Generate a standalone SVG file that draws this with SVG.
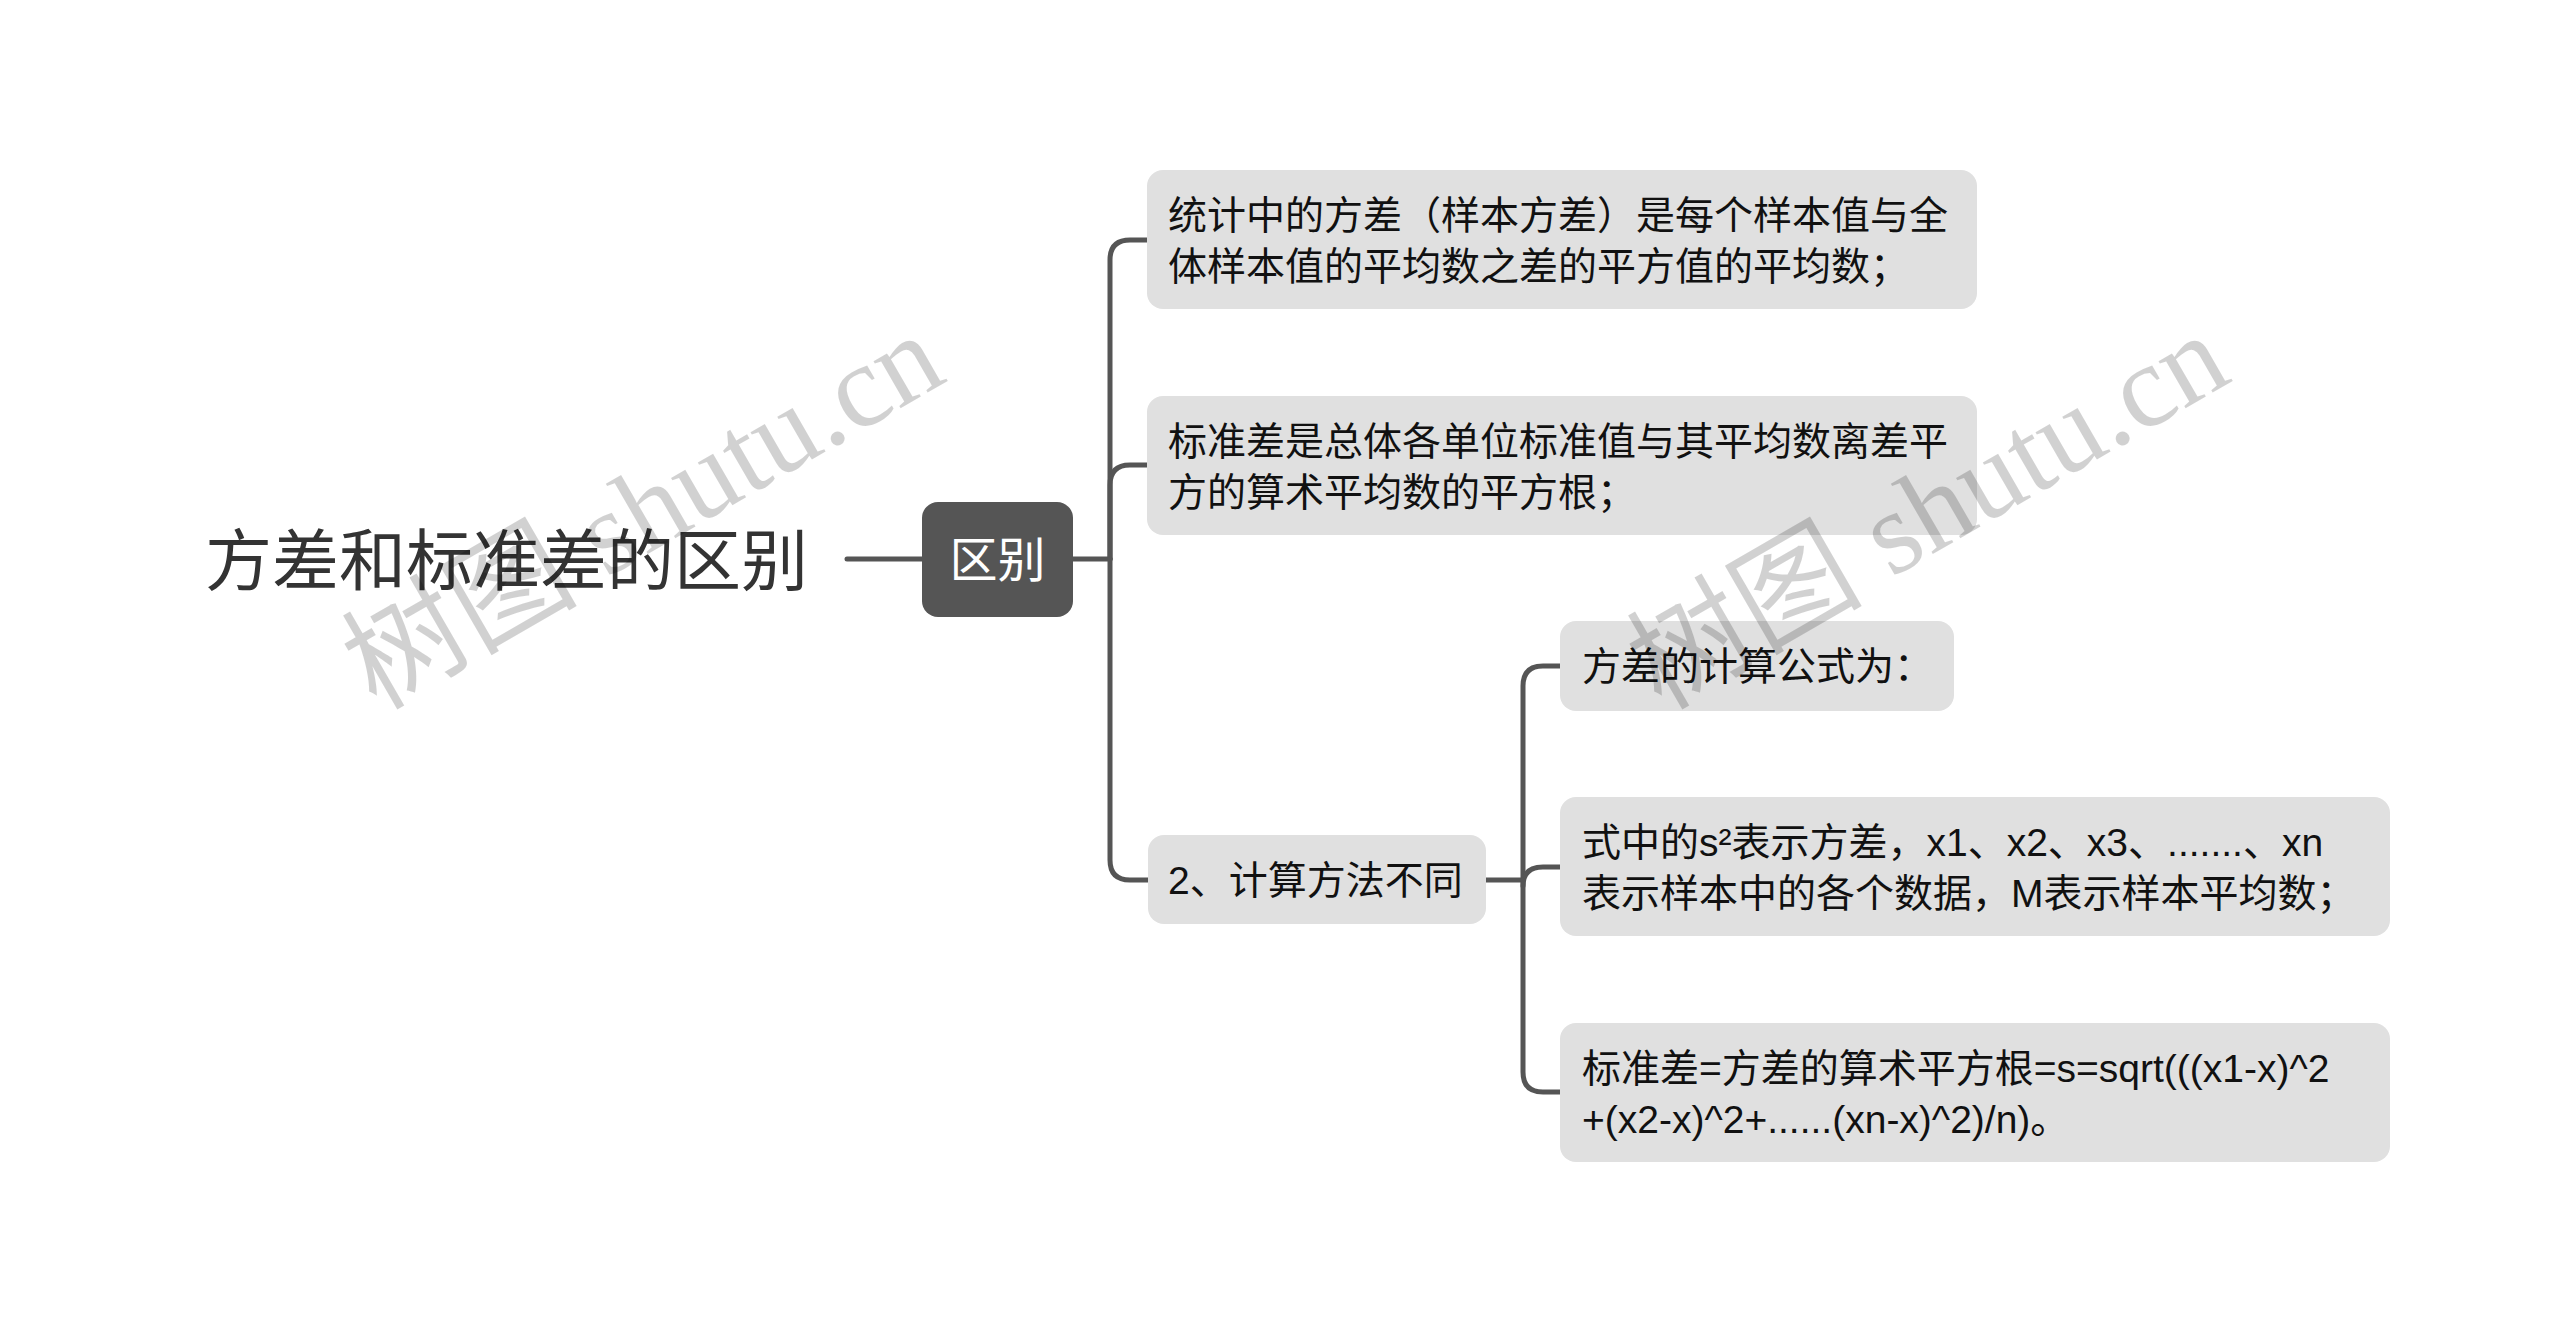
<svg xmlns="http://www.w3.org/2000/svg" width="2560" height="1333" viewBox="0 0 2560 1333">
<style>
.t{font-family:"Liberation Sans","Noto Sans CJK SC",sans-serif;fill:#111;font-size:39px}
.box{fill:#e0e0e0}
.conn{fill:none;stroke:#555;stroke-width:5;stroke-linecap:round}
.wm{font-family:"Liberation Serif","Noto Sans CJK SC",serif;font-size:118px;fill:#000;fill-opacity:0.18}
</style>
<rect width="2560" height="1333" fill="#fff"/>
<g id="connectors">
<path class="conn" d="M847 559 H922"/>
<path class="conn" d="M1073 559 H1110"/>
<path class="conn" d="M1110 559 V260 Q1110 240 1130 240 H1147"/>
<path class="conn" d="M1110 559 V485 Q1110 465 1130 465 H1147"/>
<path class="conn" d="M1110 559 V860 Q1110 880 1130 880 H1148"/>
<path class="conn" d="M1486 880 H1523"/>
<path class="conn" d="M1523 880 V686 Q1523 666 1543 666 H1560"/>
<path class="conn" d="M1523 886 Q1523 867 1543 867 H1560"/>
<path class="conn" d="M1523 880 V1072 Q1523 1092 1543 1092 H1560"/>
</g>
<g id="root">
<text x="205" y="585" style="font-family:'Liberation Sans','Noto Sans CJK SC',sans-serif;font-size:67px;fill:#333">方差和标准差的区别</text>
</g>
<g id="n-qubie">
<rect x="922" y="502" width="151" height="115" rx="16" fill="#555"/>
<text x="997.5" y="577" text-anchor="middle" style="font-family:'Liberation Sans','Noto Sans CJK SC',sans-serif;font-size:48px;fill:#fff">区别</text>
</g>
<g id="n1">
<rect class="box" x="1147" y="170" width="830" height="139" rx="16"/>
<text class="t" x="1168" y="229">统计中的方差（样本方差）是每个样本值与全</text>
<text class="t" x="1168" y="280">体样本值的平均数之差的平方值的平均数；</text>
</g>
<g id="n2">
<rect class="box" x="1147" y="396" width="830" height="139" rx="16"/>
<text class="t" x="1168" y="455">标准差是总体各单位标准值与其平均数离差平</text>
<text class="t" x="1168" y="506">方的算术平均数的平方根；</text>
</g>
<g id="n3">
<rect class="box" x="1148" y="835" width="338" height="89" rx="16"/>
<text class="t" x="1168" y="894">2、计算方法不同</text>
</g>
<g id="n4">
<rect class="box" x="1560" y="621" width="394" height="90" rx="16"/>
<text class="t" x="1582" y="680">方差的计算公式为：</text>
</g>
<g id="n5">
<rect class="box" x="1560" y="797" width="830" height="139" rx="16"/>
<text class="t" x="1582" y="856">式中的s²表示方差，x1、x2、x3、.......、xn</text>
<text class="t" x="1582" y="907">表示样本中的各个数据，M表示样本平均数；</text>
</g>
<g id="n6">
<rect class="box" x="1560" y="1023" width="830" height="139" rx="16"/>
<text class="t" x="1582" y="1082">标准差=方差的算术平方根=s=sqrt(((x1-x)^2</text>
<text class="t" x="1582" y="1133">+(x2-x)^2+......(xn-x)^2)/n)。</text>
</g>
<g id="watermarks">
<text class="wm" transform="translate(376 711) rotate(-30)">树图 shutu.cn</text>
<text class="wm" transform="translate(1661 711) rotate(-30)">树图 shutu.cn</text>
</g>
</svg>
